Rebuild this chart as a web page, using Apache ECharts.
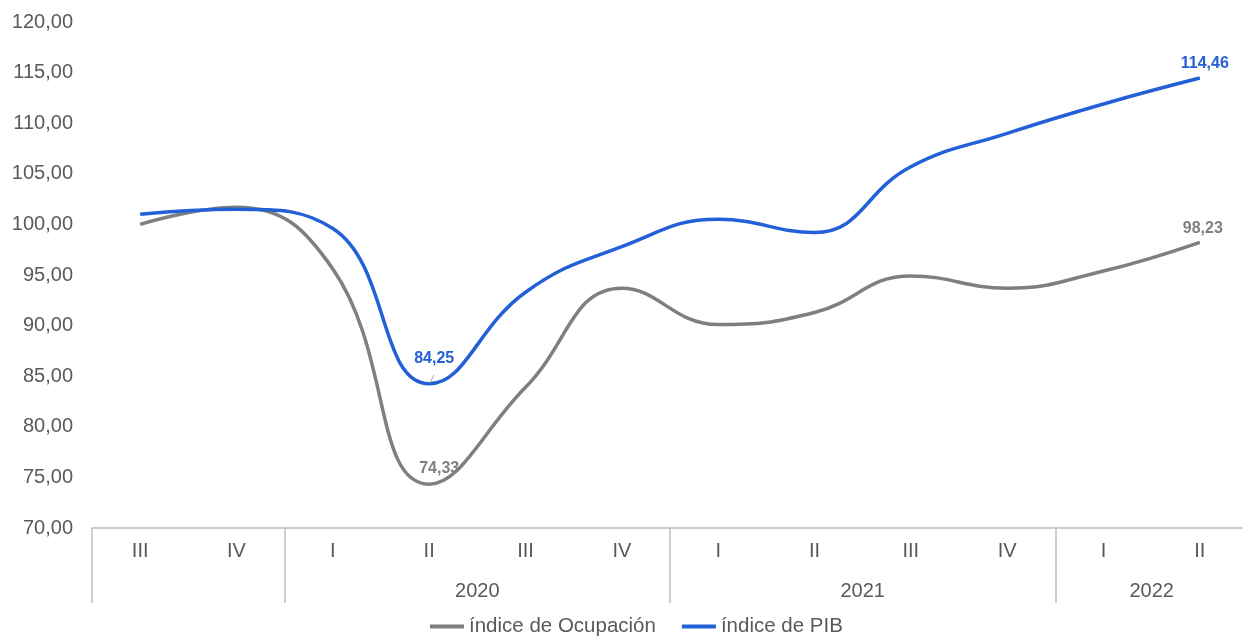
<!DOCTYPE html>
<html>
<head>
<meta charset="utf-8">
<title>Índices de Ocupación y PIB</title>
<script src="https://cdn.jsdelivr.net/npm/echarts@6/dist/echarts.min.js"></script>
<style>
  html, body { margin: 0; padding: 0; background: #fff; }
  #chart { width: 1243px; height: 637px; }
</style>
</head>
<body>
<div id="chart"></div>
<script>
// quarters along the axis and the years that group them
var quarters = ['III', 'IV', 'I', 'II', 'III', 'IV', 'I', 'II', 'III', 'IV', 'I', 'II'];
var years = ['', '', '', '', '2020', '', '', '', '2021', '', '', '2022', ''];
var yearBreaks = [0, 2, 6, 10, 12];

var ocupacion = [100.0, 101.7, 95.6, 74.33, 83.9, 93.7, 90.1, 91.3, 94.9, 93.7, 95.4, 98.23];
var pib = [101.0, 101.5, 99.6, 84.25, 93.3, 97.8, 100.5, 99.2, 105.7, 109.0, 111.9, 114.46];
var labelled = [3, 11];

var fmt = function (v) { return v.toFixed(2).replace('.', ','); };

// label only the trough and the last quarter
// place: [distance, x offset, leader line]
function withLabels(values, color, place) {
  return values.map(function (v, i) {
    var k = labelled.indexOf(i);
    if (k < 0) return v;
    return {
      value: v,
      symbol: 'circle', symbolSize: 2,
      itemStyle: { color: 'rgba(0,0,0,0)', borderWidth: 0 },
      labelLine: { show: !!place[k][2], lineStyle: { color: '#a6a6a6', width: 1 } },
      label: {
        show: true, position: 'top', distance: place[k][0], offset: [place[k][1], 0],
        color: color, fontWeight: 'bold', fontSize: 16,
        fontFamily: 'Liberation Sans, Arial, sans-serif',
        formatter: function (p) { return fmt(p.value); }
      }
    };
  });
}

var txt = '#595959';
var font = 'Liberation Sans, Arial, sans-serif';
var chart = echarts.init(document.getElementById('chart'));

chart.setOption({
  animation: false,
  textStyle: { fontFamily: font },
  grid: { left: 92, top: 22, width: 1156, height: 506, outerBoundsMode: 'none' },
  legend: {
    left: 425, bottom: -5, itemGap: 26, itemWidth: 34, itemHeight: 4, icon: 'rect',
    textStyle: { color: txt, fontSize: 20.5, fontFamily: font },
    data: ['índice de Ocupación', 'índice de PIB']
  },
  xAxis: [{
    type: 'category', data: quarters, boundaryGap: true,
    axisLine: { lineStyle: { color: '#bfbfbf', width: 1.5 } },
    axisTick: { show: false },
    axisLabel: { color: txt, fontSize: 20, margin: 13, fontFamily: font }
  }, {
    type: 'category', data: years, boundaryGap: false, position: 'bottom',
    axisLine: { show: false },
    axisTick: {
      show: true, length: 75, lineStyle: { color: '#bfbfbf', width: 1.5 },
      interval: function (i) { return yearBreaks.indexOf(i) >= 0; }
    },
    axisLabel: { color: txt, fontSize: 20, margin: 53, interval: 0, fontFamily: font }
  }],
  yAxis: {
    type: 'value', min: 70, max: 120, interval: 5,
    axisLine: { show: false }, axisTick: { show: false }, splitLine: { show: false },
    axisLabel: { color: txt, fontSize: 20, margin: 19, fontFamily: font, formatter: fmt }
  },
  series: [{
    name: 'índice de Ocupación', type: 'line', smooth: 0.45, symbol: 'none',
    color: '#7f7f7f', lineStyle: { width: 3.5, color: '#7f7f7f' },
    data: withLabels(ocupacion, '#7f7f7f', [[7, 10, false], [5, 3, false]])
  }, {
    name: 'índice de PIB', type: 'line', smooth: 0.45, symbol: 'none',
    color: '#2360d8', lineStyle: { width: 3.5, color: '#2360d8' },
    data: withLabels(pib, '#2360d8', [[16, 5, true], [5, 5, false]])
  }]
});
</script>
</body>
</html>
